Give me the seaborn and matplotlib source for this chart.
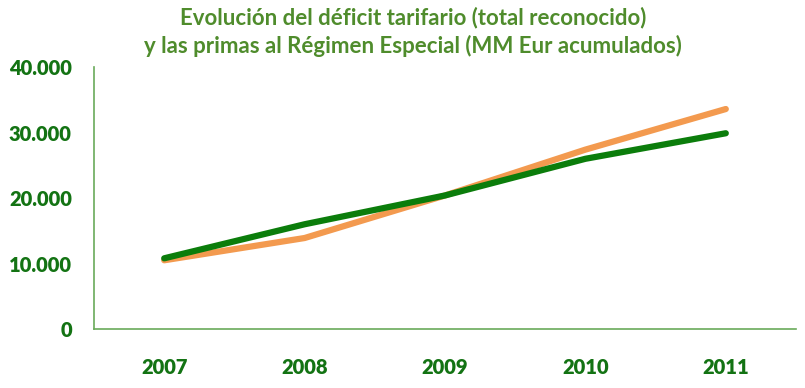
import pandas as pd
import matplotlib.pyplot as plt
import seaborn as sns
from matplotlib.ticker import FuncFormatter, FixedLocator

# Data (MM Eur acumulados)
years = ["2007", "2008", "2009", "2010", "2011"]
primas_regimen_especial = [10500, 13900, 20400, 27400, 33600]
deficit_tarifario = [10800, 16000, 20400, 26000, 29900]

df = pd.DataFrame({
    "Año": years * 2,
    "Valor": primas_regimen_especial + deficit_tarifario,
    "Serie": ["Primas RE"] * len(years) + ["Déficit"] * len(years),
})

sns.set_style("white")
plt.rcParams["font.family"] = ["Lato", "DejaVu Sans"]

text_green = "#137313"
title_green = "#4f8c2c"
axis_green = "#6aaa5a"

fig = plt.figure(figsize=(8.05, 3.88), dpi=100)
ax = fig.add_axes([0.1168, 0.152, 0.872, 0.675])

sns.lineplot(
    data=df, x="Año", y="Valor", hue="Serie",
    palette={"Primas RE": "#f39a4f", "Déficit": "#0b7d0b"},
    hue_order=["Primas RE", "Déficit"],
    linewidth=4.5, legend=False, ax=ax,
)

ax.set_xlim(-0.5, 4.5)
ax.set_ylim(0, 40000)
ax.set_yticks([0, 10000, 20000, 30000, 40000])
ax.yaxis.set_major_formatter(FuncFormatter(lambda v, p: f"{int(v):,}".replace(",", ".")))
ax.xaxis.set_minor_locator(FixedLocator([-0.5, 0.5, 1.5, 2.5, 3.5, 4.5]))
ax.tick_params(axis="x", which="major", length=0, pad=21,
               labelsize=14.5, labelcolor=text_green)
ax.tick_params(axis="x", which="minor", length=9, width=1, color=axis_green)
ax.tick_params(axis="y", length=6, width=1, color=axis_green, pad=10,
               labelsize=14.5, labelcolor=text_green)
for lbl in ax.get_xticklabels() + ax.get_yticklabels():
    lbl.set_fontweight("heavy")

ax.set_xlabel("")
ax.set_ylabel("")
for side in ["top", "right"]:
    ax.spines[side].set_visible(False)
for side in ["left", "bottom"]:
    ax.spines[side].set_color(axis_green)
    ax.spines[side].set_linewidth(1.2)

fig.text(0.513, 0.954, "Evolución del déficit tarifario (total reconocido)",
         ha="center", va="center", fontsize=16, fontweight="bold", color=title_green)
fig.text(0.513, 0.881, "y las primas al Régimen Especial (MM Eur acumulados)",
         ha="center", va="center", fontsize=16, fontweight="bold", color=title_green)

fig.savefig("out.png", dpi=100)
